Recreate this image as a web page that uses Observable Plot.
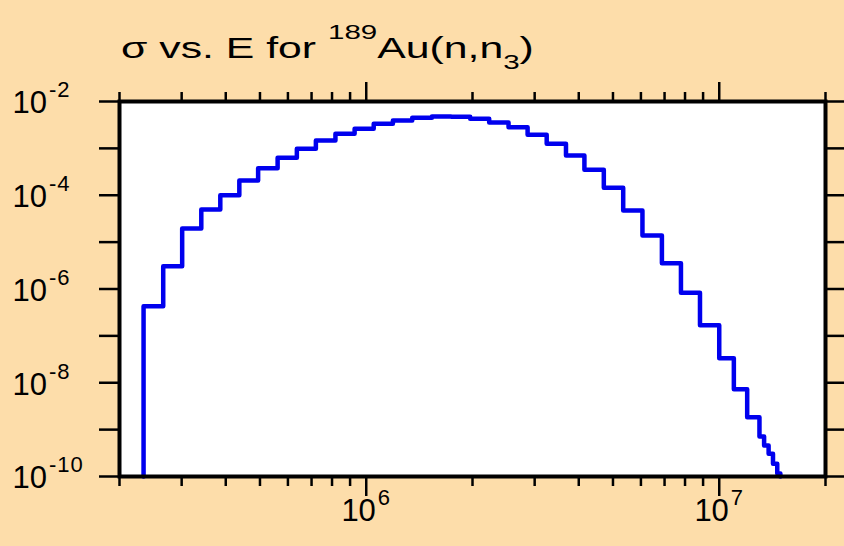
<!DOCTYPE html>
<html><head><meta charset="utf-8">
<script src="https://cdn.jsdelivr.net/npm/d3@7"></script>
<script src="https://cdn.jsdelivr.net/npm/@observablehq/plot@0.6"></script>
<style>
html,body{margin:0;padding:0;background:#FDDDAA;}
#chart{width:844px;height:546px;}
</style></head><body><div id="chart"></div>
<script>
// Bin edges (eV) and cross-section per bin
const edges = [2.34e5, 2.66e5, 3.01e5, 3.41e5, 3.86e5, 4.37e5, 4.94e5, 5.61e5, 6.36e5, 7.20e5,
  8.18e5, 9.27e5, 1.05e6, 1.19e6, 1.35e6, 1.535e6, 1.74e6, 1.97e6, 2.23e6, 2.53e6,
  2.865e6, 3.245e6, 3.68e6, 4.15e6, 4.71e6, 5.345e6, 6.06e6, 6.88e6, 7.79e6, 8.82e6,
  1.0e7, 1.1e7, 1.2e7, 1.3e7, 1.34e7, 1.38e7, 1.42e7, 1.46e7, 1.49e7];
const sigma = [4.3e-7, 3.06e-6, 1.95e-5, 4.97e-5, 1.0e-4, 2.06e-4, 3.78e-4, 6.29e-4, 9.8e-4, 1.47e-3,
  2.05e-3, 2.62e-3, 3.35e-3, 3.93e-3, 4.49e-3, 4.79e-3, 4.75e-3, 4.28e-3, 3.56e-3, 2.83e-3,
  1.95e-3, 1.25e-3, 7.05e-4, 3.49e-4, 1.44e-4, 4.73e-5, 1.38e-5, 3.55e-6, 8.3e-7, 1.69e-7,
  3.34e-8, 7.3e-9, 1.84e-9, 7.1e-10, 4.6e-10, 3.05e-10, 1.87e-10, 1.16e-10];
const xDomain = [2e5, 2e7];
const yDomain = [1e-10, 1e-2];
const xMinorTicks = [2e5, 3e5, 4e5, 5e5, 6e5, 7e5, 8e5, 9e5, 2e6, 3e6, 4e6, 5e6, 6e6, 7e6, 8e6, 9e6, 2e7];
const xMajorTicks = [1e6, 1e7];
const yTicks = [1e-10, 1e-9, 1e-8, 1e-7, 1e-6, 1e-5, 1e-4, 1e-3, 1e-2];
const yLabelTicks = [1e-10, 1e-8, 1e-6, 1e-4, 1e-2];
const titleMain = "σ vs. E for ";
const titleSup = "189";
const titleNuc = "Au(n,n";
const titleSub = "3";
const titleEnd = ")";

const pts = [{E: edges[0], s: yDomain[0]}];
sigma.forEach((s, i) => pts.push({E: edges[i], s}));
pts.push({E: edges[edges.length - 1], s: sigma[sigma.length - 1]});
pts.push({E: edges[edges.length - 1], s: yDomain[0]});

const expLabel = d => "10^" + Math.round(Math.log10(d));
const blank = () => "";
const FONT = "'Liberation Sans', Arial, sans-serif";

const svg = Plot.plot({
  width: 844, height: 546,
  marginLeft: 119, marginRight: 19, marginTop: 101, marginBottom: 70,
  style: {background: "#FDDDAA", fontFamily: FONT, color: "black", overflow: "visible"},
  x: {type: "log", domain: xDomain, label: null},
  y: {type: "log", domain: yDomain, label: null},
  marks: [
    Plot.frame({fill: "white"}),
    Plot.line(pts, {x: "E", y: "s", curve: "step-after", stroke: "#0000EE", strokeWidth: 4.5}),
    Plot.frame({stroke: "black", strokeWidth: 4}),
    Plot.axisX(xMinorTicks, {anchor: "bottom", tickSize: 10, strokeWidth: 2.5, tickFormat: blank, label: null}),
    Plot.axisX(xMinorTicks, {anchor: "top", tickSize: 10, strokeWidth: 2.5, tickFormat: blank, label: null}),
    Plot.axisX(xMajorTicks, {anchor: "bottom", tickSize: 20, strokeWidth: 2.5, tickFormat: blank, label: null}),
    Plot.axisX(xMajorTicks, {anchor: "top", tickSize: 20, strokeWidth: 2.5, tickFormat: blank, label: null}),
    Plot.axisY(yTicks, {anchor: "left", tickSize: 20, strokeWidth: 2.5, tickFormat: blank, label: null}),
    Plot.axisY(yTicks, {anchor: "right", tickSize: 19, strokeWidth: 2.5, tickFormat: blank, label: null}),
    Plot.text(yLabelTicks, {y: d => d, text: expLabel, frameAnchor: "left", textAnchor: "start", dx: -107, dy: 2, fontSize: 31, fill: "black"}),
    Plot.text(xMajorTicks, {x: d => d, text: expLabel, frameAnchor: "bottom", textAnchor: "middle", dy: 44, fontSize: 31, fill: "black"})
  ]
});

d3.select(svg).selectAll("text").each(function() {
  const txt = this.textContent;
  if (txt.includes("^")) {
    const [b, e] = txt.split("^");
    const t = d3.select(this);
    t.text(b);
    t.append("tspan").attr("dx", 2).attr("dy", -16).attr("font-size", 22).attr("letter-spacing", 1).text(e);
  }
});

document.getElementById("chart").appendChild(svg);

const tx = 121, ty = 58;
const title = d3.select(svg).append("text")
  .attr("x", tx).attr("y", ty).attr("font-size", 29).attr("fill", "black")
  .attr("text-anchor", "start").attr("font-family", FONT);
title.append("tspan").text(titleMain);
title.append("tspan").attr("dy", -19).attr("font-size", 20).text(titleSup);
title.append("tspan").attr("dy", 19).text(titleNuc);
title.append("tspan").attr("dy", 11).attr("font-size", 20).text(titleSub);
title.append("tspan").attr("dy", -11).text(titleEnd);
const bw = title.node().getBBox().width;
const sx = 413 / bw;
title.attr("transform", `translate(${tx},0) scale(${sx},1) translate(${-tx},0)`);
</script></body></html>
